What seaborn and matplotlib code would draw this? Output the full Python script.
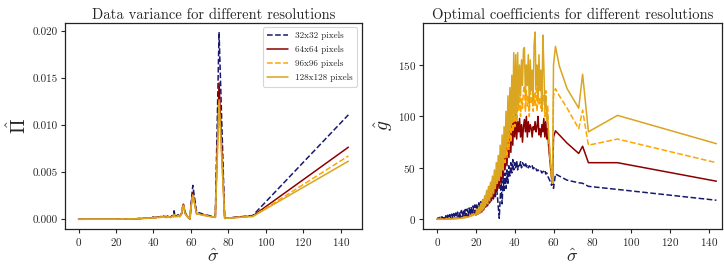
import numpy as np
import pandas as pd
import matplotlib
matplotlib.use("Agg")
import matplotlib.pyplot as plt
import seaborn as sns

# --- sigma grid (shared by both panels) ---
sigma = [
    0, 0.5, 1, 1.5, 2, 2.5, 3, 3.5, 4, 4.5,
    5, 5.5, 6, 6.5, 7, 7.5, 8, 8.5, 9, 9.5,
    10, 10.5, 11, 11.5, 12, 12.5, 13, 13.5, 14, 14.5,
    15, 15.5, 16, 16.5, 17, 17.5, 18, 18.5, 19, 19.5,
    20, 20.5, 21, 21.5, 22, 22.5, 23, 23.5, 24, 24.5,
    25, 25.5, 26, 26.5, 27, 27.5, 28, 28.5, 29, 29.5,
    30, 30.5, 31, 31.5, 32, 32.5, 33, 33.5, 34, 34.5,
    35, 35.5, 36, 36.5, 37, 37.5, 38, 38.5, 39, 39.5,
    40, 40.5, 41, 41.5, 42, 42.5, 43, 43.5, 44, 44.5,
    45, 45.5, 46, 46.5, 47, 47.5, 48, 48.5, 49, 49.5,
    50, 50.5, 51, 51.5, 52, 52.5, 53, 53.5, 54, 54.5,
    55, 55.5, 56, 56.5, 57, 57.5, 58, 58.5, 59, 59.5,
    60,
    61, 63, 67, 73, 75, 78, 93, 144,
]

labels = ["32x32 pixels", "64x64 pixels", "96x96 pixels", "128x128 pixels"]
colors = ["#191970", "#8b0000", "#ffa500", "#daa520"]
styles = ["--", "-", "--", "-"]

# --- left panel: data variance (units of 1e-3) ---
var_32 = [
    0, 0, 0, 0, 0, 0, 0, 0, 0, 0,
    0, 0, 0, 0, 0, 0, 0, 0, 0, 0,
    0, 0, 0, 0, 0, 0, 0, 0, 0, 0,
    0, 0, 0, 0, 0.01, 0.01, 0.01, 0.01, 0.01, 0.01,
    0.01, 0.01, 0.02, 0.02, 0.02, 0.02, 0.02, 0.02, 0.03, 0.03,
    0.03, 0.03, 0.03, 0.04, 0.04, 0.04, 0.04, 0.05, 0.05, 0.05,
    0.05, 0.05, 0.06, 0.06, 0.07, 0.07, 0.08, 0.08, 0.09, 0.1,
    0.1, 0.12, 0.1, 0.14, 0.12, 0.15, 0.13, 0.16, 0.15, 0.2,
    0.25, 0.15, 0.2, 0.18, 0.3, 0.2, 0.25, 0.22, 0.3, 0.25,
    0.3, 0.4, 0.25, 0.3, 0.2, 0.35, 0.25, 0.3, 0.2, 0.3,
    0.4, 0.3, 0.9, 0.3, 0.4, 0.3, 0.5, 0.4, 0.3, 0.5,
    0.6, 1.2, 1.5, 1.0, 0.6, 0.5, 0.3, 0.2, 0.1, 0.05,
    1.5,
    3.6, 0.8, 0.5, 0.25, 19.9, 0.1, 0.4, 11.1,
]
var_64 = [
    0, 0, 0, 0, 0, 0, 0, 0, 0, 0,
    0, 0, 0, 0, 0, 0, 0, 0, 0, 0,
    0, 0, 0, 0, 0, 0, 0, 0, 0, 0,
    0, 0, 0, 0, 0.01, 0.01, 0.01, 0.01, 0.01, 0.01,
    0.01, 0.01, 0.02, 0.02, 0.02, 0.02, 0.02, 0.02, 0.03, 0.03,
    0.03, 0.03, 0.03, 0.04, 0.04, 0.04, 0.04, 0.05, 0.05, 0.05,
    0.05, 0.05, 0.06, 0.06, 0.07, 0.07, 0.08, 0.08, 0.09, 0.1,
    0.1, 0.11, 0.1, 0.13, 0.12, 0.14, 0.13, 0.15, 0.14, 0.18,
    0.22, 0.15, 0.19, 0.17, 0.27, 0.2, 0.24, 0.21, 0.28, 0.24,
    0.28, 0.35, 0.24, 0.28, 0.2, 0.32, 0.24, 0.28, 0.2, 0.28,
    0.35, 0.3, 0.6, 0.3, 0.35, 0.3, 0.45, 0.35, 0.3, 0.45,
    0.6, 1.3, 1.6, 1.1, 0.7, 0.5, 0.3, 0.2, 0.1, 0.05,
    1.3,
    2.8, 0.6, 0.45, 0.2, 14.5, 0.1, 0.35, 7.66,
]
var_96 = [
    0, 0, 0, 0, 0, 0, 0, 0, 0, 0,
    0, 0, 0, 0, 0, 0, 0, 0, 0, 0,
    0, 0, 0, 0, 0, 0, 0, 0, 0, 0,
    0, 0, 0, 0, 0.01, 0.01, 0.01, 0.01, 0.01, 0.01,
    0.01, 0.01, 0.02, 0.02, 0.02, 0.02, 0.02, 0.02, 0.03, 0.03,
    0.03, 0.03, 0.03, 0.04, 0.04, 0.04, 0.04, 0.05, 0.05, 0.05,
    0.05, 0.05, 0.06, 0.06, 0.07, 0.07, 0.08, 0.08, 0.09, 0.1,
    0.1, 0.11, 0.1, 0.12, 0.11, 0.13, 0.12, 0.14, 0.13, 0.17,
    0.2, 0.14, 0.18, 0.16, 0.25, 0.19, 0.22, 0.2, 0.26, 0.22,
    0.26, 0.32, 0.22, 0.26, 0.19, 0.3, 0.22, 0.26, 0.19, 0.26,
    0.32, 0.28, 0.5, 0.28, 0.32, 0.28, 0.42, 0.33, 0.28, 0.42,
    0.6, 1.2, 1.5, 1.0, 0.6, 0.4, 0.3, 0.2, 0.1, 0.05,
    1.2,
    2.6, 0.6, 0.45, 0.2, 12.3, 0.1, 0.3, 6.73,
]
var_128 = [
    0, 0, 0, 0, 0, 0, 0, 0, 0, 0,
    0, 0, 0, 0, 0, 0, 0, 0, 0, 0,
    0, 0, 0, 0, 0, 0, 0, 0, 0, 0,
    0, 0, 0, 0, 0.01, 0.01, 0.01, 0.01, 0.01, 0.01,
    0.01, 0.01, 0.02, 0.02, 0.02, 0.02, 0.02, 0.02, 0.03, 0.03,
    0.03, 0.03, 0.03, 0.04, 0.04, 0.04, 0.04, 0.05, 0.05, 0.05,
    0.05, 0.05, 0.06, 0.06, 0.07, 0.07, 0.08, 0.08, 0.09, 0.1,
    0.1, 0.11, 0.1, 0.12, 0.11, 0.13, 0.12, 0.14, 0.13, 0.16,
    0.19, 0.14, 0.17, 0.16, 0.24, 0.18, 0.21, 0.19, 0.25, 0.21,
    0.25, 0.3, 0.21, 0.25, 0.18, 0.28, 0.21, 0.25, 0.18, 0.25,
    0.3, 0.27, 0.45, 0.27, 0.3, 0.27, 0.4, 0.32, 0.27, 0.4,
    0.6, 1.2, 1.5, 1.0, 0.6, 0.4, 0.3, 0.2, 0.1, 0.05,
    1.2,
    2.6, 0.6, 0.4, 0.2, 12.7, 0.1, 0.3, 6.17,
]

# --- right panel: optimal coefficients ---
g_32 = [
    0, 1.5, 0.2, 2, 0.3, 2.5, 0.5, 3, 0.5, 3.5,
    0.8, 4, 1, 4.5, 1, 5, 1.2, 5.5, 1.5, 6,
    2, 7, 2, 7.5, 2.5, 8.5, 2.5, 9, 3, 9.5,
    3, 10, 3.5, 11, 4, 12, 4, 13, 5, 14,
    5, 15, 6, 16, 7, 18, 8, 19, 10, 21,
    12, 23, 14, 25, 16, 27, 18, 28, 20, 30,
    22, 32, 24, 12, 1, 20, 35, 15, 40, 28,
    45, 30, 48, 35, 52, 42, 55, 45, 58, 48,
    55, 50, 57, 48, 54, 52, 56, 50, 55, 53,
    52, 55, 51, 53, 50, 52, 51, 50, 52, 49,
    50, 48, 49, 47, 48, 47, 46, 47, 45, 46,
    47, 48, 44, 45, 42, 40, 38, 36, 33, 35,
    30,
    44, 42, 38, 35.5, 35, 32, 29, 18.5,
]
g_64 = [
    0, 0, 0, 0, 0.2, 0.2, 0.3, 0.3, 0.4, 0.4,
    0.5, 0.5, 0.6, 0.6, 0.7, 0.7, 0.8, 0.8, 1, 1,
    1, 1.2, 1.2, 1.4, 1.5, 1.6, 1.8, 2, 2, 2.2,
    2.5, 2.8, 3, 3.2, 3.5, 4, 4.5, 5, 5.5, 6,
    4, 9, 5, 11, 6, 13, 7, 16, 9, 19,
    12, 22, 13, 25, 16, 28, 18, 30, 20, 34,
    25, 38, 28, 45, 30, 50, 35, 55, 40, 62,
    48, 70, 52, 80, 60, 90, 65, 95, 72, 100,
    80, 102, 78, 95, 85, 98, 80, 92, 75, 90,
    97, 85, 100, 80, 95, 85, 92, 88, 80, 90,
    87, 95, 85, 90, 100, 82, 88, 80, 92, 85,
    98, 80, 95, 78, 88, 70, 60, 50, 40, 35,
    80,
    86, 82, 74, 64, 71, 55, 55, 37,
]
g_96 = [
    0, 0, 0, 0, 0, 0.1, 0.1, 0.1, 0.2, 0.2,
    0.2, 0.3, 0.3, 0.4, 0.4, 0.5, 0.5, 0.6, 0.6, 0.7,
    0.8, 0.9, 1, 1.1, 1.2, 1.4, 1.5, 1.7, 1.9, 2.1,
    2.3, 2.6, 2.9, 3.2, 3.6, 4, 4.5, 5, 5.6, 6.2,
    5, 10, 6, 12, 7, 15, 9, 18, 11, 22,
    14, 26, 16, 30, 19, 34, 22, 38, 25, 42,
    30, 48, 34, 55, 38, 62, 42, 70, 48, 78,
    55, 88, 60, 98, 68, 108, 75, 115, 85, 125,
    90, 130, 95, 120, 105, 128, 100, 118, 108, 125,
    130, 105, 125, 110, 120, 100, 128, 112, 118, 105,
    122, 110, 135, 105, 125, 112, 118, 108, 130, 115,
    120, 100, 125, 95, 110, 80, 65, 50, 40, 35,
    120,
    127, 120, 108, 88, 106, 72, 78, 55,
]
g_128 = [
    0, 0, 0, 0, 0, 0, 0.1, 0.1, 0.1, 0.1,
    0.2, 0.2, 0.2, 0.3, 0.3, 0.3, 0.4, 0.4, 0.5, 0.5,
    0.6, 0.6, 0.7, 0.8, 0.9, 1, 1.1, 1.2, 1.3, 1.5,
    1.7, 1.9, 2.1, 2.4, 2.7, 3, 3.4, 3.8, 4.3, 4.8,
    4, 9, 5, 12, 6, 15, 8, 19, 10, 23,
    13, 28, 15, 32, 18, 36, 22, 42, 25, 48,
    30, 55, 35, 62, 38, 72, 42, 82, 48, 90,
    60, 105, 70, 120, 80, 128, 90, 140, 95, 162,
    100, 160, 95, 162, 110, 150, 120, 155, 130, 165,
    167, 120, 150, 130, 160, 110, 155, 125, 145, 115,
    170, 182, 130, 150, 115, 160, 125, 145, 105, 179,
    150, 110, 120, 95, 100, 80, 70, 55, 45, 38,
    150,
    168, 149, 127, 108, 141, 85, 101, 73.5,
]

sns.set_theme(style="ticks")
plt.rcParams["font.family"] = ["cmr10", "DejaVu Serif"]
plt.rcParams["mathtext.fontset"] = "cm"
plt.rcParams["axes.formatter.use_mathtext"] = True
plt.rcParams["axes.unicode_minus"] = False

fig = plt.figure(figsize=(7.24, 2.64), dpi=100)
ax1 = fig.add_axes([0.0898, 0.134, 0.410, 0.780])
ax2 = fig.add_axes([0.584, 0.134, 0.413, 0.780])

variances = [var_32, var_64, var_96, var_128]
coeffs = [g_32, g_64, g_96, g_128]

for vals, lab, col, ls in zip(variances, labels, colors, styles):
    sns.lineplot(x=sigma, y=np.array(vals) * 1e-3, ax=ax1, color=col,
                 linestyle=ls, linewidth=1.1, label=lab, estimator=None)

for vals, lab, col, ls in zip(coeffs, labels, colors, styles):
    sns.lineplot(x=sigma, y=vals, ax=ax2, color=col,
                 linestyle=ls, linewidth=1.1, estimator=None, legend=False)

ax1.set_title("Data variance for different resolutions", fontsize=10.5, pad=3)
ax1.set_xlabel(r"$\hat{\sigma}$", fontsize=13, labelpad=0)
ax1.set_ylabel(r"$\hat{\Pi}$", fontsize=14, labelpad=2)
ax1.set_yticks([0, 0.005, 0.010, 0.015, 0.020])
ax1.set_yticklabels(["0.000", "0.005", "0.010", "0.015", "0.020"])
ax1.set_xticks([0, 20, 40, 60, 80, 100, 120, 140])

ax2.set_title("Optimal coefficients for different resolutions", fontsize=10.5, pad=3)
ax2.set_xlabel(r"$\hat{\sigma}$", fontsize=13, labelpad=0)
ax2.set_ylabel(r"$\hat{g}$", fontsize=14, labelpad=2)
ax2.set_yticks([0, 50, 100, 150])
ax2.set_xticks([0, 20, 40, 60, 80, 100, 120, 140])
ax2.set_xlim(-7.4, 146.8)

for ax in (ax1, ax2):
    ax.tick_params(labelsize=8, length=3, width=0.8, pad=2)
    for sp in ax.spines.values():
        sp.set_linewidth(0.9)
        sp.set_color("#222222")

leg = ax1.legend(loc="upper right", fontsize=6.6, frameon=True,
                 handlelength=2.2, borderpad=0.5, labelspacing=0.6)
leg.get_frame().set_edgecolor("#cccccc")
leg.get_frame().set_linewidth(0.8)

fig.savefig("out.png", dpi=100)
